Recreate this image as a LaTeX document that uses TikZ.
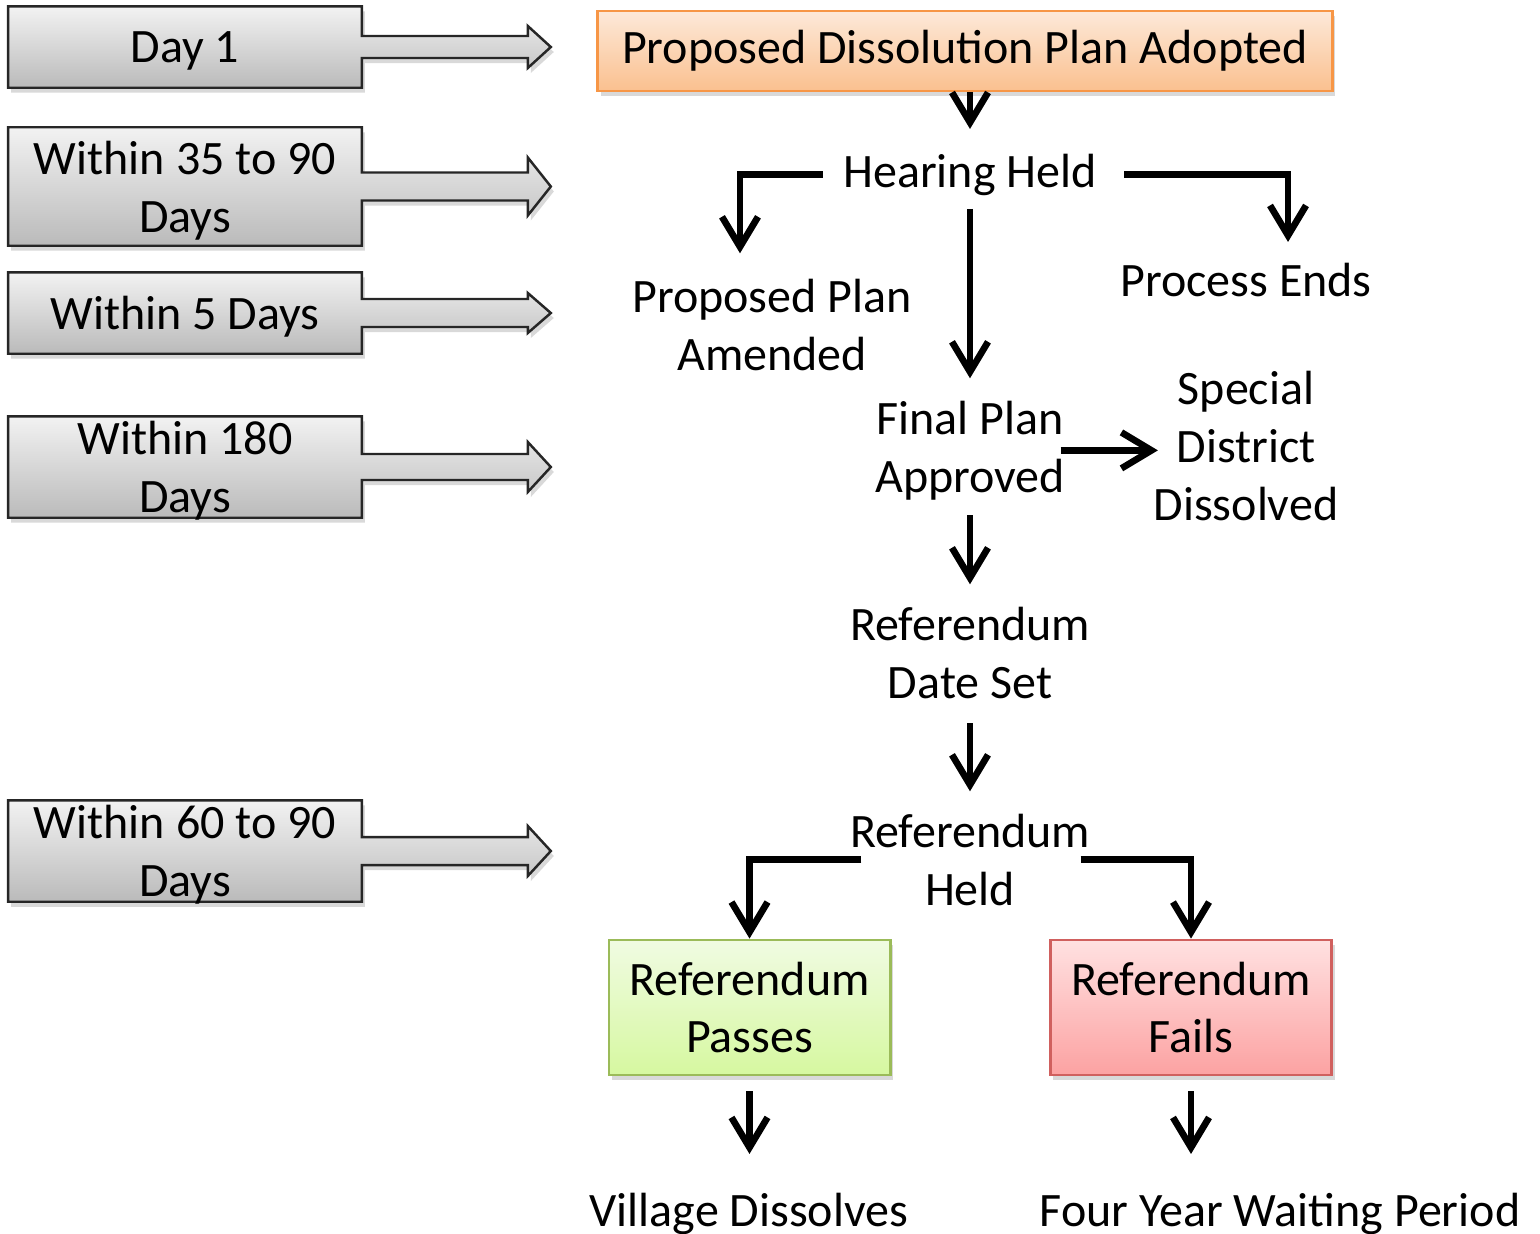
\documentclass[tikz,border=0pt]{standalone}
\usepackage{fontspec}
\setmainfont{Carlito}
\usetikzlibrary{positioning,calc,shadows,backgrounds,arrows.meta}
\definecolor{planline}{HTML}{F79646}
\definecolor{plantop}{HTML}{FDE9D9}
\definecolor{planbottom}{HTML}{FAC08F}
\definecolor{passline}{HTML}{9BBB59}
\definecolor{passtop}{HTML}{F0FBE2}
\definecolor{passbottom}{HTML}{D6F8A0}
\definecolor{failline}{HTML}{D0605E}
\definecolor{failtop}{HTML}{FFE1E1}
\definecolor{failbottom}{HTML}{FCA2A2}
\tikzset{dayblock/.style={inner sep=0pt,minimum width=3.52cm,align=center,text depth=0pt},
         stage/.style={inner sep=0pt,align=center,anchor=base},
         softshadow/.style={drop shadow={shadow xshift=0.03cm,shadow yshift=-0.05cm,opacity=0.3}},
         planbox/.style={draw=planline,line width=0.8pt,top color=plantop,bottom color=planbottom,minimum width=7.34cm,minimum height=0.8cm,inner sep=0pt,softshadow},
         outcome/.style={draw,line width=0.8pt,minimum width=2.81cm,minimum height=1.35cm,align=center,inner sep=0pt,softshadow},
         flow/.style={line width=1.9pt,-{Straight Barb[length=0.3cm,width=0.36cm]}}
}
\tikzstyle{callout} = [draw=black!85,line width=0.7pt,top color=black!5,bottom color=black!27,softshadow]
\newcommand{\dayarrow}[3]{%
  \path[callout] (#1.north west) -- (#1.north east) -- ($(#1.east)+(0,-#2)$) -- ($(#1.east)+(166,-#2)$)
    -- ($(#1.east)+(166,-#3)$) -- ($(#1.east)+(189,0)$) -- ($(#1.east)+(166,#3)$) -- ($(#1.east)+(166,#2)$)
    -- ($(#1.east)+(0,#2)$) -- (#1.south east) -- (#1.south west) -- cycle;}

\begin{document}
\begin{tikzpicture}[x=0.01cm,y=-0.01cm,font=\fontsize{13.65}{16.4}\selectfont]
\useasboundingbox (0,0) rectangle (1540,1233);

% time line
\node[dayblock,minimum height=0.8cm] (dayone) at (185,47) {Day 1};
\node[dayblock,minimum height=1.17cm] (daytwo) at (185,186.5) {Within 35 to 90\\Days};
\node[dayblock,minimum height=0.8cm] (daythree) at (185,313) {Within 5 Days};
\node[dayblock,minimum height=1cm] (dayfour) at (185,467) {Within 180\\Days};
\node[dayblock,minimum height=1cm] (dayfive) at (185,851) {Within 60 to 90\\Days};
\begin{scope}[on background layer]
\dayarrow{dayone}{11}{21}
\dayarrow{daytwo}{14}{29}
\dayarrow{daythree}{14}{20}
\dayarrow{dayfour}{13}{25}
\dayarrow{dayfive}{14}{25}
\end{scope}

% process
\node[planbox] (adopt) at (965,51) {Proposed Dissolution Plan Adopted};
\node[stage] (hear) at (970,187) {Hearing Held};
\node[stage] (amend) at (772,370) {Proposed Plan\\Amended};
\node[stage] (ends) at (1246,296) {Process Ends};
\node[stage] (final) at (970,492) {Final Plan\\Approved};
\node[stage] (special) at (1246,520) {Special\\District\\Dissolved};
\node[stage] (date) at (970,698) {Referendum\\Date Set};
\node[stage] (held) at (970,905) {Referendum\\Held};
\node[outcome,draw=passline,top color=passtop,bottom color=passbottom] (pass) at (749.5,1007.5) {Referendum\\Passes};
\node[outcome,draw=failline,top color=failtop,bottom color=failbottom] (fail) at (1191,1007.5) {Referendum\\Fails};
\node[stage] (village) at (749,1226) {Village Dissolves};
\node[stage] (wait) at (1280,1226) {Four Year Waiting Period};

\draw[flow,shorten >=0.24cm] (adopt.south -| hear.north) -- (hear.north);
\draw[flow,shorten >=0.25cm] ([xshift=-0.2cm]hear.west) -| ([xshift=-0.32cm]amend.north);
\draw[flow,shorten >=0.2cm] ([xshift=0.27cm]hear.east) -| ([xshift=0.42cm]ends.north);
\draw[flow,shorten <=0.13cm,shorten >=0.22cm] (hear.south) -- (final.north);
\draw[flow] ([xshift=-0.05cm]final.east) -- ([xshift=0.05cm]final.east -| special.west);
\draw[flow,shorten <=0.15cm,shorten >=0.22cm] (final.south) -- (date.north);
\draw[flow,shorten <=0.24cm,shorten >=0.22cm] (date.south) -- (held.north);
\draw[flow] ([xshift=0.12cm]held.west) -| (pass.north);
\draw[flow] ([xshift=-0.1cm]held.east) -| (fail.north);
\draw[flow,shorten <=0.15cm,shorten >=0.38cm] (pass.south) -- (pass.south |- village.north);
\draw[flow,shorten <=0.15cm,shorten >=0.38cm] (fail.south) -- (fail.south |- wait.north);

\end{tikzpicture}
\end{document}
